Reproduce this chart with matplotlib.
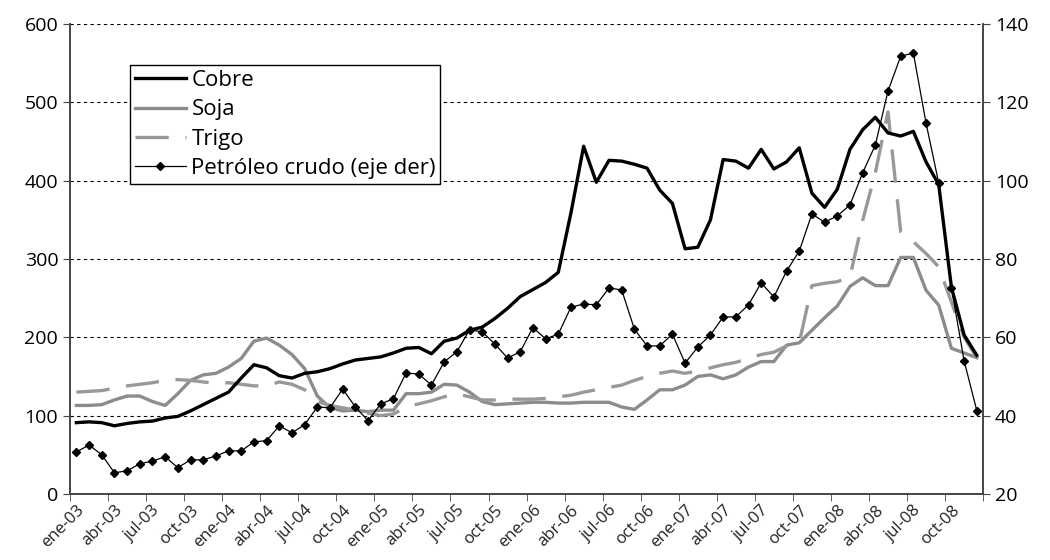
import numpy as np
import matplotlib
matplotlib.use("Agg")
import matplotlib.pyplot as plt

plt.rcParams['font.family'] = ['Open Sans', 'DejaVu Sans']

# monthly, ene-03 .. dic-08
meses = ['ene', 'feb', 'mar', 'abr', 'may', 'jun', 'jul', 'ago', 'sep', 'oct', 'nov', 'dic']
fechas = ["%s-%02d" % (m, a) for a in range(3, 9) for m in meses]

cobre = [91, 92, 91, 87, 90, 92, 93, 97, 99, 106, 114, 122,
         130, 148, 165, 161, 151, 148, 154, 156, 160, 166, 171, 173,
         175, 180, 186, 187, 179, 195, 199, 209, 213, 224, 237, 252,
         261, 270, 283, 359, 444, 398, 426, 425, 421, 416, 388, 371,
         313, 315, 350, 427, 425, 416, 440, 415, 424, 442, 384, 366,
         389, 440, 465, 481, 461, 457, 463, 424, 395, 264, 203, 177]

soja = [113, 113, 114, 120, 125, 125, 118, 113, 128, 145, 152, 154,
        162, 173, 195, 199, 190, 178, 160, 125, 110, 106, 107, 105,
        107, 107, 128, 128, 130, 140, 139, 130, 118, 114, 115, 116,
        117, 117, 116, 116, 117, 117, 117, 111, 108, 120, 133, 133,
        139, 150, 152, 147, 152, 162, 169, 169, 190, 193, 209, 225,
        240, 265, 276, 266, 266, 302, 302, 260, 241, 186, 180, 174]

trigo = [130, 131, 132, 135, 138, 140, 142, 145, 146, 145, 143, 141,
         142, 140, 138, 138, 143, 140, 133, 118, 113, 110, 107, 103,
         100, 102, 111, 115, 119, 124, 128, 124, 120, 120, 121, 121,
         121, 122, 124, 126, 130, 133, 136, 139, 145, 150, 154, 157,
         154, 157, 161, 165, 168, 173, 178, 181, 189, 193, 266, 269,
         271, 277, 349, 410, 488, 335, 322, 307, 290, 245, 200, 174]

petroleo = [30.7, 32.5, 30.0, 25.4, 25.9, 27.7, 28.4, 29.5, 26.7, 28.7, 28.7, 29.7,
            31.0, 31.0, 33.3, 33.6, 37.4, 35.6, 37.7, 42.2, 42.0, 46.8, 42.2, 38.7,
            43.0, 44.3, 50.9, 50.6, 47.8, 53.7, 56.3, 61.9, 61.4, 58.3, 54.7, 56.3,
            62.5, 59.6, 60.8, 67.7, 68.5, 68.3, 72.6, 72.1, 62.1, 57.8, 57.8, 60.8,
            53.4, 57.5, 60.6, 65.2, 65.2, 68.3, 73.9, 70.3, 76.9, 82.0, 91.5, 89.4,
            91.0, 93.8, 102.0, 109.1, 122.9, 131.8, 132.6, 114.7, 99.4, 72.7, 54.0, 41.3]

x = np.arange(len(fechas))

fig = plt.figure(figsize=(10.5, 5.6), dpi=100)
ax = fig.add_axes([0.0667, 0.118, 0.8696, 0.839])
ax2 = ax.twinx()

l1, = ax.plot(x, cobre, color='black', lw=2.4, label='Cobre', zorder=4)
l2, = ax.plot(x, soja, color='#8c8c8c', lw=2.4, label='Soja', zorder=3)
l3, = ax.plot(x, trigo, color='#999999', lw=2.4, label='Trigo', zorder=3)
l3.set_dashes([10, 5])
l4, = ax2.plot(x, petroleo, color='black', lw=0.9, marker='D', ms=4.5,
               label='Petróleo crudo (eje der)')

ax.set_xlim(-0.5, len(x) - 0.5)
ax.set_ylim(0, 600)
ax.set_yticks(range(0, 601, 100))
ax2.set_ylim(20, 140)
ax2.set_yticks(range(20, 141, 20))

for yv in range(100, 601, 100):
    ax.axhline(yv, color='black', lw=0.8, ls=(0, (3, 3)), zorder=1)

# tick marks at category boundaries, labels every 3 months
ax.set_xticks(np.arange(-0.5, len(x), 3), minor=True)
ax.set_xticks(x[::3])
ax.set_xticklabels(fechas[::3], rotation=45, ha='right', rotation_mode='anchor',
                   fontsize=12, color='#222222')
ax.tick_params(axis='x', which='major', length=0, pad=6)
ax.tick_params(axis='x', which='minor', length=5, direction='out', color='#444444')
ax.tick_params(axis='y', labelsize=14, length=5, color='#444444')
ax2.tick_params(axis='y', labelsize=14, length=5, color='#444444')

for a in (ax, ax2):
    a.spines['top'].set_visible(False)
    for s in ('left', 'right', 'bottom'):
        a.spines[s].set_color('#444444')
        a.spines[s].set_linewidth(1.2)

leg = ax2.legend(handles=[l1, l2, l3, l4], loc='upper left',
                 bbox_to_anchor=(0.066, 0.912), fontsize=16, frameon=True,
                 fancybox=False, edgecolor='black', handlelength=2.3,
                 handletextpad=0.25, borderpad=0.2, labelspacing=0.38,
                 borderaxespad=0, framealpha=1)
leg.get_frame().set_linewidth(1.0)

fig.savefig('out.png', dpi=100)
